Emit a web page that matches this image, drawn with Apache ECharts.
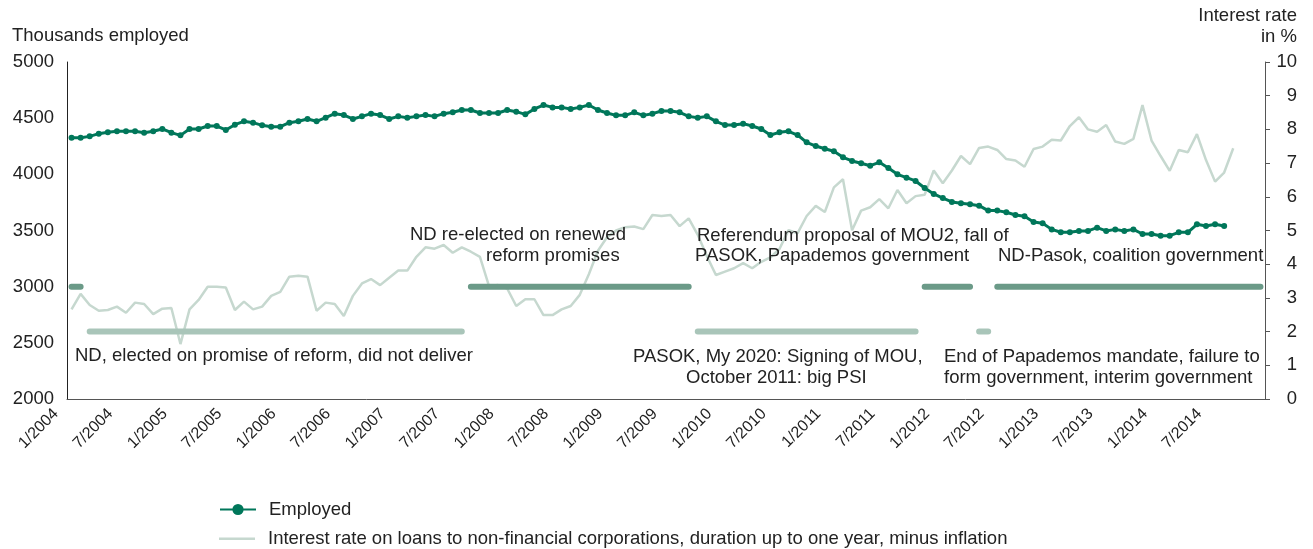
<!DOCTYPE html>
<html>
<head>
    <meta charset="utf-8" />
    <title>Greece: employment and interest rate</title>
    <script src="https://cdn.jsdelivr.net/npm/echarts@6.0.0/dist/echarts.min.js"></script>
</head>
<body style="margin:0">
<div id="main" style="width:1313px;height:549px;"></div>
<script type="text/javascript">
    // months 1/2004 .. 12/2014
    var months = [];
    for (var yr = 2004; yr <= 2014; yr++) {
        for (var mo = 1; mo <= 12; mo++) months.push(mo + '/' + yr);
    }

    // thousands employed, 1/2004 .. 8/2014
    var employed = [
        4326, 4326, 4338, 4362, 4374, 4383, 4383, 4383, 4371, 4383, 4404, 4371,
        4347, 4404, 4404, 4430, 4430, 4395, 4442, 4472, 4460, 4436, 4424, 4424,
        4460, 4472, 4493, 4472, 4504, 4540, 4528, 4493, 4516, 4540, 4528, 4493,
        4516, 4504, 4516, 4528, 4516, 4540, 4552, 4573, 4573, 4546, 4546, 4546,
        4573, 4558, 4534, 4582, 4617, 4596, 4596, 4582, 4596, 4617, 4573, 4546,
        4525, 4525, 4552, 4525, 4540, 4564, 4564, 4552, 4516, 4504, 4516, 4472,
        4439, 4439, 4451, 4430, 4404, 4350, 4374, 4383, 4350, 4285, 4252, 4228,
        4205, 4151, 4119, 4098, 4077, 4107, 4056, 4000, 3970, 3941, 3878, 3825,
        3789, 3754, 3742, 3733, 3721, 3677, 3677, 3662, 3638, 3626, 3576, 3564,
        3510, 3484, 3484, 3496, 3496, 3525, 3496, 3510, 3496, 3510, 3469, 3469,
        3454, 3454, 3484, 3484, 3555, 3540, 3555, 3540
    ];

    // real interest rate in %, 1/2004 .. 9/2014
    var interestRate = [
        2.66, 3.12, 2.79, 2.62, 2.64, 2.74, 2.56, 2.86, 2.82, 2.52, 2.68, 2.70,
        1.63, 2.66, 2.94, 3.33, 3.33, 3.31, 2.64, 2.89, 2.66, 2.74, 3.06, 3.18,
        3.63, 3.66, 3.63, 2.62, 2.86, 2.82, 2.46, 3.06, 3.43, 3.56, 3.38, 3.60,
        3.81, 3.81, 4.22, 4.50, 4.46, 4.57, 4.34, 4.50, 4.37, 4.22, 3.35, 3.38,
        3.28, 2.76, 2.96, 2.96, 2.49, 2.49, 2.66, 2.76, 3.09, 3.70, 4.40, 4.80,
        5.00, 5.10, 5.12, 5.04, 5.46, 5.43, 5.46, 5.13, 5.36, 4.87, 4.24, 3.68,
        3.78, 3.88, 4.03, 3.88, 4.07, 4.20, 4.45, 5.01, 4.92, 5.43, 5.73, 5.55,
        6.28, 6.52, 5.01, 5.59, 5.69, 5.93, 5.66, 6.20, 5.81, 6.02, 6.06, 6.78,
        6.40, 6.78, 7.21, 6.97, 7.45, 7.49, 7.39, 7.12, 7.08, 6.89, 7.42, 7.49,
        7.69, 7.67, 8.10, 8.36, 8.00, 7.93, 8.13, 7.64, 7.57, 7.72, 8.72, 7.67,
        7.21, 6.77, 7.39, 7.32, 7.86, 7.09, 6.45, 6.72, 7.44
    ];

    // government periods as [first month index, last month index]
    var darkPeriods = [[0, 1], [44, 68], [94, 99], [102, 131]];
    var lightPeriods = [[2, 43], [69, 93], [100, 101]];
    var darkLevel = 3000;
    var lightLevel = 2600;

    var FONT = '"Liberation Sans", Arial, Helvetica, sans-serif';
    var TXT = '#222';
    var FS = 18.5;
    var RATE_NAME = 'Interest rate on loans to non-financial corporations, duration up to one year, minus inflation';

    function periodData(periods, level) {
        return months.map(function (m, i) {
            for (var k = 0; k < periods.length; k++) {
                if (i >= periods[k][0] && i <= periods[k][1]) return level;
            }
            return null;
        });
    }

    function note(text, x, y, align) {
        return {
            type: 'text', x: x, y: y, z: 100,
            style: { text: text, fill: TXT, fontSize: FS, fontFamily: FONT, align: align || 'left', verticalAlign: 'middle' }
        };
    }

    function legendRow(item, top) {
        return {
            left: 219, top: top, padding: 0,
            itemWidth: 36, itemHeight: 14,
            data: [item],
            textStyle: { fontSize: FS, color: TXT, fontFamily: FONT, padding: [0, 0, 0, 8] }
        };
    }

    var myChart = echarts.init(document.getElementById('main'));

    var option = {
        animation: false,
        textStyle: { fontFamily: FONT },
        grid: { left: 67, right: 48, top: 62, bottom: 150, containLabel: false, outerBoundsMode: 'none' },
        legend: [
            legendRow({ name: 'Employed' }, 500),
            // plain line icon (thin bar padded to full icon height)
            legendRow({ name: RATE_NAME, icon: 'path://M0,0L36,0L36,0.01L0,0.01Z M0,6L36,6L36,8.5L0,8.5Z M0,13.99L36,13.99L36,14L0,14Z' }, 529)
        ],
        graphic: [
            note('Thousands employed', 12, 36),
            note('Interest rate', 1297, 16, 'right'),
            note('in %', 1297, 37, 'right'),
            note('ND, elected on promise of reform, did not deliver', 75, 356),
            note('ND re-elected on renewed', 410, 235),
            note('reform promises', 486, 256),
            note('Referendum proposal of MOU2, fall of', 697, 236),
            note('PASOK, Papademos government', 695, 256),
            note('ND-Pasok, coalition government', 998, 256),
            note('PASOK, My 2020: Signing of MOU,', 633, 357),
            note('October 2011: big PSI', 686, 378),
            note('End of Papademos mandate, failure to', 944, 357),
            note('form government, interim government', 944, 378)
        ],
        xAxis: {
            type: 'category',
            data: months,
            boundaryGap: true,
            axisLine: { lineStyle: { color: '#555', width: 1 } },
            axisTick: { show: false },
            axisLabel: {
                rotate: 45, color: TXT, fontSize: 16, margin: 8,
                verticalAlign: 'bottom', padding: [0, 14, 0, 0],
                interval: function (idx) { return idx % 6 === 0 && idx <= 126; }
            },
            splitLine: { show: false }
        },
        yAxis: [
            {
                type: 'value', min: 2000, max: 5000, interval: 500, position: 'left',
                axisLine: { show: true, lineStyle: { color: '#222' } },
                axisTick: { show: false },
                axisLabel: { color: TXT, fontSize: FS, margin: 13, formatter: function (v) { return String(v); } },
                splitLine: { show: false }
            },
            {
                type: 'value', min: 0, max: 10, interval: 1, position: 'right',
                axisLine: { show: true, lineStyle: { color: '#555' } },
                axisTick: { show: true, length: 5, lineStyle: { color: '#555' } },
                axisLabel: { color: TXT, fontSize: FS, margin: 32, align: 'right' },
                splitLine: { show: false }
            }
        ],
        series: [
            {
                name: RATE_NAME,
                type: 'line', yAxisIndex: 1, data: interestRate,
                showSymbol: false, symbol: 'none',
                lineStyle: { color: '#c6d8cf', width: 2.5 },
                itemStyle: { color: '#c6d8cf' },
                z: 2
            },
            {
                name: 'dark periods', type: 'line', data: periodData(darkPeriods, darkLevel),
                symbol: 'none', connectNulls: false,
                lineStyle: { color: '#6b9a88', width: 6, cap: 'round' },
                z: 3
            },
            {
                name: 'light periods', type: 'line', data: periodData(lightPeriods, lightLevel),
                symbol: 'none', connectNulls: false,
                lineStyle: { color: '#a9c5b9', width: 6, cap: 'round' },
                z: 3
            },
            {
                name: 'Employed', type: 'line', data: employed,
                symbol: 'circle', symbolSize: 6,
                lineStyle: { color: '#00775a', width: 3 },
                itemStyle: { color: '#00775a' },
                z: 4
            }
        ]
    };

    myChart.setOption(option);
</script>
</body>
</html>
